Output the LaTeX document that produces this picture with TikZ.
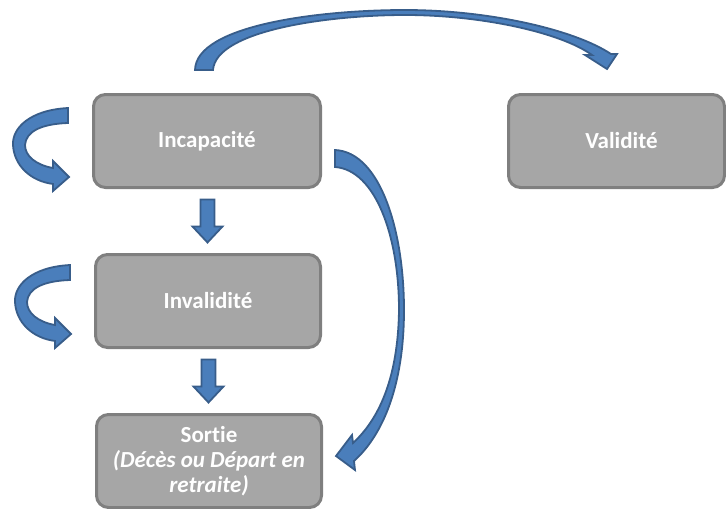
\documentclass[tikz,border=0pt]{standalone}
\usepackage{fontspec}
\setmainfont{Carlito}[Ligatures=NoCommon]
\usetikzlibrary{calc}
\definecolor{boxfill}{HTML}{A6A6A6}
\definecolor{boxline}{HTML}{7F7F7F}
\definecolor{arrowfill}{HTML}{4A7EBB}
\definecolor{arrowline}{HTML}{385D8A}
\begin{document}
\begin{tikzpicture}[x=1pt,y=-1pt,
  state/.style={draw=boxline, line width=3pt, fill=boxfill, rounded corners=12pt,
    minimum width=227pt, minimum height=93pt, inner sep=0pt, text=white,
    font=\fontsize{23}{25}\selectfont\bfseries, align=center},
  blockarrow/.style={fill=arrowfill, draw=arrowline, line width=1.8pt},
  downarrow/.pic={\path[blockarrow] (-7,-21.5) -- (7,-21.5) -- (7,5.5) -- (15,5.5)
    -- (0,21.5) -- (-15,5.5) -- (-7,5.5) -- cycle;},
  selfloop/.pic={\path[blockarrow] (68,108) .. controls (30,110) and (12,128) .. (13,145)
    .. controls (14,165) and (30,181) .. (53,184) -- (53,191) -- (69,177) -- (53,161)
    -- (53,168) .. controls (36,165) and (25,156) .. (25,145)
    .. controls (26,132) and (40,124) .. (68,123) -- cycle;}]
\useasboundingbox (0,0) rectangle (726,509);
\clip (0,0) rectangle (726,509);

% states
\node[state] (inc) at (207,141) {Incapacité};
\node[state, minimum width=216pt] (val) at (616.5,141) {\hspace*{10pt}Validité};
\node[state, minimum width=225pt] (inv) at (208,301) {Invalidité};
\node[state, minimum width=225pt] (sor) at (209,461)
  {Sortie\\\itshape (Décès ou Départ en\\\itshape retraite)};

% straight transitions
\pic at ($(inc.south)!0.5!(inv.north)$) {downarrow};
\pic at ($(inv.south)!0.5!(sor.north)$) {downarrow};

% staying in the same state
\pic at (0,0) {selfloop};
\pic at (2,157) {selfloop};

% Incapacité -> Validité
\path[blockarrow] (195,70) .. controls (196,25) and (320,10) .. (405,10)
  .. controls (490,10) and (575,30) .. (611,54) -- (617,54) -- (607,69) -- (585,55)
  -- (592,55) .. controls (560,32) and (480,15) .. (405,15)
  .. controls (330,15) and (216,30) .. (213,70) -- cycle;

% Incapacité -> Sortie
\path[blockarrow] (335,150) .. controls (380,152) and (404,230) .. (404,310)
  .. controls (404,385) and (383,435) .. (354,461) -- (355,470) -- (336,456)
  -- (352,435) -- (353,443) .. controls (378,420) and (398,380) .. (399,310)
  .. controls (399,235) and (375,170) .. (335,167) -- cycle;
\end{tikzpicture}
\end{document}
